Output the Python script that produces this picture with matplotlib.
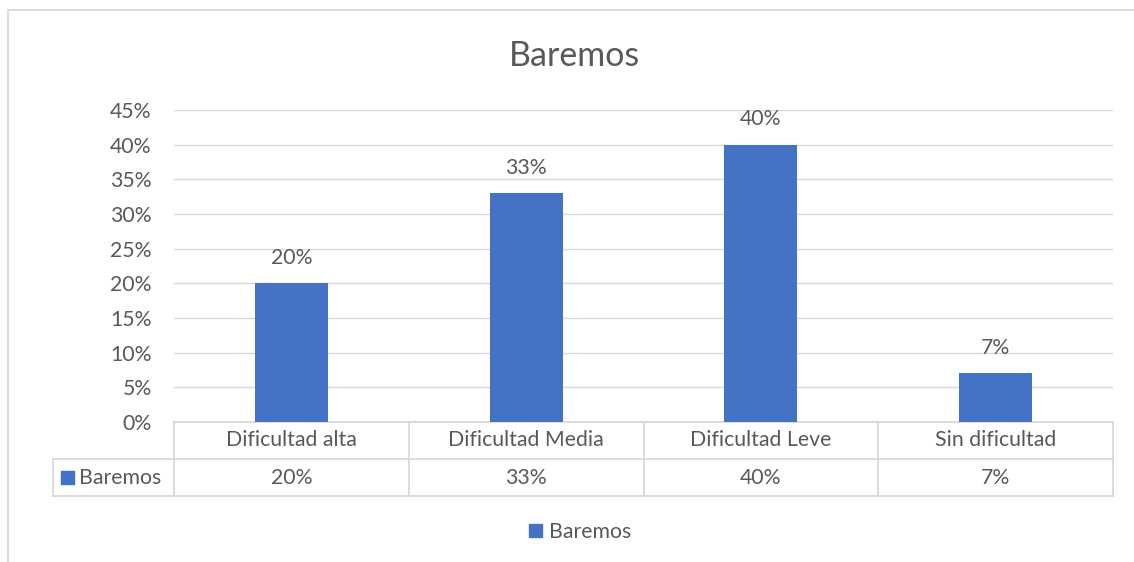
import matplotlib
matplotlib.use("Agg")
import matplotlib.pyplot as plt
from matplotlib.patches import Rectangle
from matplotlib.lines import Line2D
import matplotlib.transforms as mtransforms

categories = ["Dificultad alta", "Dificultad Media", "Dificultad Leve", "Sin dificultad"]
values = [0.20, 0.33, 0.40, 0.07]
series_name = "Baremos"
yticks = [0, 0.05, 0.10, 0.15, 0.20, 0.25, 0.30, 0.35, 0.40, 0.45]
ytick_labels = ["0%", "5%", "10%", "15%", "20%", "25%", "30%", "35%", "40%", "45%"]
value_labels = ["20%", "33%", "40%", "7%"]

plt.rcParams['font.family'] = ['Lato', 'DejaVu Sans']
W, H = 1134, 562
TXT = "#595959"
GRID = "#D9D9D9"
BAR = "#4472C4"
FS = 15.3

fig = plt.figure(figsize=(W / 100, H / 100), dpi=100)

# outer chart border
fig.patches.append(Rectangle((8 / W, -0.1), 1.2, 1 - 10 / H + 0.1, transform=fig.transFigure,
                             fill=False, edgecolor=GRID, linewidth=1.3))

left, right, top, bottom = 174, 1113, 110, 422
ax = fig.add_axes([left / W, 1 - bottom / H, (right - left) / W, (bottom - top) / H])
x = list(range(len(categories)))
ax.bar(x, values, width=0.31, color=BAR, zorder=3)
ax.set_xlim(-0.5, len(categories) - 0.5)
ax.set_ylim(0, 0.45)
ax.set_yticks(yticks)
ax.set_yticklabels(ytick_labels)
ax.tick_params(axis='y', length=0, pad=16, labelsize=FS, labelcolor=TXT)
ax.set_xticks([])
for s in ax.spines.values():
    s.set_visible(False)
ax.grid(axis='y', color=GRID, linewidth=1, zorder=0)
ax.set_axisbelow(True)

for xi, v, lab in zip(x, values, value_labels):
    ax.annotate(lab, (xi, v), xytext=(0, 11), textcoords='offset points',
                ha='center', va='bottom', fontsize=FS, color=TXT)

fig.text(575 / W, 1 - 56 / H, "Baremos", fontsize=24.5, color=TXT, ha='center', va='center')

# data table
trans = mtransforms.blended_transform_factory(ax.transData, ax.transAxes)
row_h = 37 / (bottom - top)
xl = -0.5 - (left - 53) / ((right - left) / len(categories))
n = len(categories)
kw = dict(color=GRID, linewidth=1.3, transform=trans, clip_on=False)
# horizontal lines
ax.add_line(Line2D([-0.5, n - 0.5], [0, 0], **kw))
ax.add_line(Line2D([xl, n - 0.5], [-row_h, -row_h], **kw))
ax.add_line(Line2D([xl, n - 0.5], [-2 * row_h, -2 * row_h], **kw))
# vertical lines
for b in [i - 0.5 for i in range(n + 1)]:
    ax.add_line(Line2D([b, b], [0, -2 * row_h], **kw))
ax.add_line(Line2D([xl, xl], [-row_h, -2 * row_h], **kw))

for xi, c, lab in zip(x, categories, value_labels):
    ax.text(xi, -row_h / 2, c, transform=trans, ha='center', va='center',
            fontsize=FS, color=TXT, clip_on=False)
    ax.text(xi, -1.5 * row_h, lab, transform=trans, ha='center', va='center',
            fontsize=FS, color=TXT, clip_on=False)
# legend key in table
ax.add_patch(Rectangle((xl + 0.035, -1.5 * row_h - 0.022), 0.055, 0.044, transform=trans,
                       color=BAR, clip_on=False))
ax.text(xl + 0.11, -1.5 * row_h, series_name, transform=trans, ha='left', va='center',
        fontsize=FS, color=TXT, clip_on=False)

# legend
handle = Rectangle((0, 0), 1, 1, color=BAR)
fig.legend([handle], [series_name], loc='center', bbox_to_anchor=(580 / W, 1 - 532 / H),
           frameon=False, fontsize=FS, labelcolor=TXT, handlelength=0.6, handleheight=0.6,
           handletextpad=0.35)

fig.savefig("out.png", dpi=100)
